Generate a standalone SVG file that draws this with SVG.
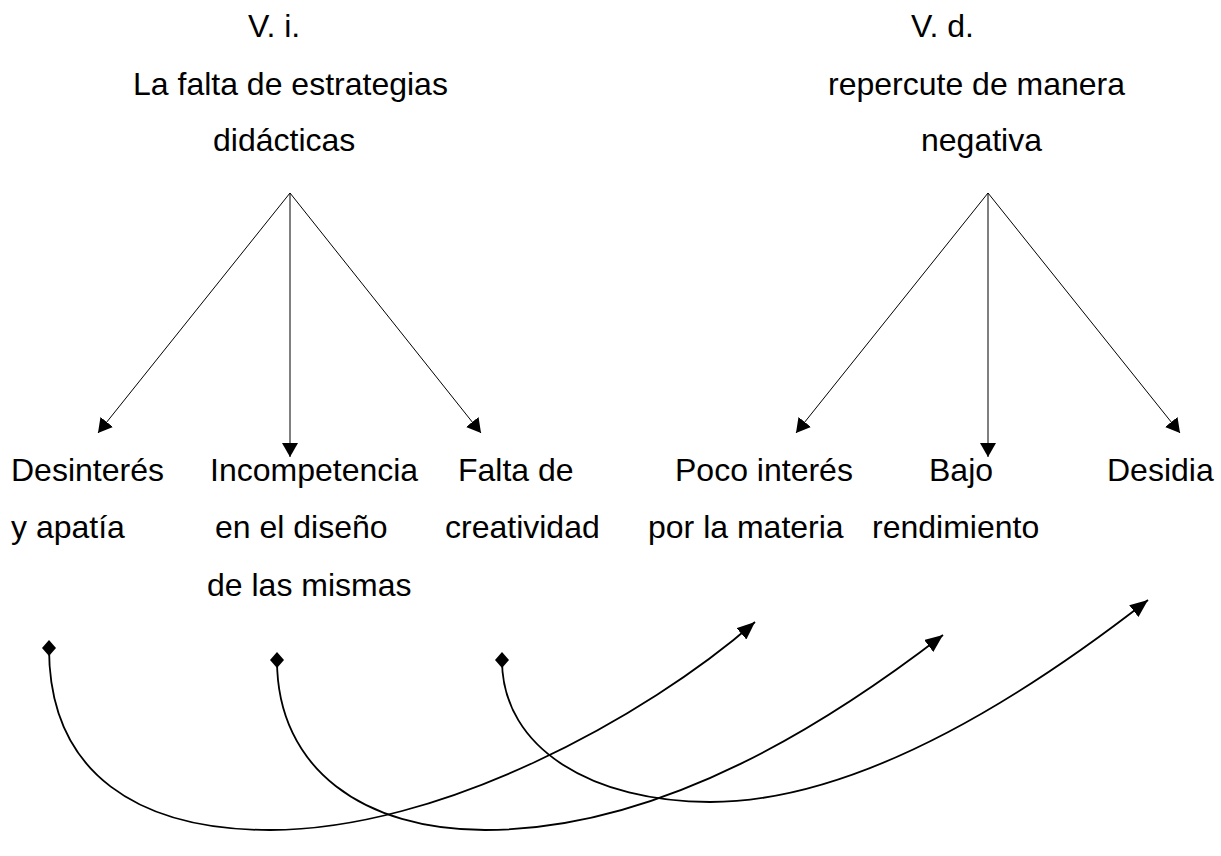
<svg xmlns="http://www.w3.org/2000/svg" width="1221" height="856" viewBox="0 0 1221 856">
<style>
text{font-family:"Liberation Sans",Arial,sans-serif;font-size:32px;fill:#000}
.ln{stroke:#000;stroke-width:1;fill:none}
.cv{stroke:#000;stroke-width:1.8;fill:none}
</style>
<defs>
<marker id="arr" viewBox="0 0 14 16" refX="14" refY="8" markerWidth="14" markerHeight="16" markerUnits="userSpaceOnUse" orient="auto"><path d="M0,0 L14,8 L0,16 z" fill="#000"/></marker>
<marker id="arr2" viewBox="0 0 18 15" refX="18" refY="7.5" markerWidth="18" markerHeight="15" markerUnits="userSpaceOnUse" orient="auto"><path d="M0,0 L18,7.5 L0,15 z" fill="#000"/></marker>
<marker id="dia" viewBox="-8 -8 16 16" refX="0" refY="0" markerWidth="16" markerHeight="16" markerUnits="userSpaceOnUse" orient="auto"><path d="M-8,0 L0,-7 L8,0 L0,7 z" fill="#000"/></marker>
</defs>
<rect width="1221" height="856" fill="#fff"/>
<g id="vi">
<text x="248" y="37">V. i.</text>
<text x="133" y="95">La falta de estrategias</text>
<text x="213" y="151">didácticas</text>
</g>
<g id="vd">
<text x="911" y="37">V. d.</text>
<text x="828" y="95">repercute de manera</text>
<text x="921" y="151">negativa</text>
</g>
<g id="n-desinteres"><text x="11" y="481">Desinterés</text><text x="11" y="538">y apatía</text></g>
<g id="n-incompetencia"><text x="210" y="481">Incompetencia</text><text x="215" y="538">en el diseño</text><text x="207" y="596">de las mismas</text></g>
<g id="n-falta"><text x="458" y="481">Falta de</text><text x="445" y="538">creatividad</text></g>
<g id="n-poco"><text x="675" y="481">Poco interés</text><text x="648" y="538">por la materia</text></g>
<g id="n-bajo"><text x="929" y="481">Bajo</text><text x="872" y="538">rendimiento</text></g>
<g id="n-desidia"><text x="1107" y="481">Desidia</text></g>
<g id="connectors">
<line class="ln" x1="290" y1="193" x2="98" y2="433" marker-end="url(#arr)"/>
<line class="ln" x1="290" y1="193" x2="290" y2="457" marker-end="url(#arr)"/>
<line class="ln" x1="290" y1="193" x2="481" y2="433" marker-end="url(#arr)"/>
<line class="ln" x1="988" y1="193" x2="796" y2="433" marker-end="url(#arr)"/>
<line class="ln" x1="988" y1="193" x2="988" y2="457" marker-end="url(#arr)"/>
<line class="ln" x1="988" y1="193" x2="1180" y2="433" marker-end="url(#arr)"/>
<path class="cv" d="M49,648 C49,775 140,830 270,830 C440,830 645,718 755,622" marker-start="url(#dia)" marker-end="url(#arr2)"/>
<path class="cv" d="M277,660 C277,770 365,830 485,830 C665,830 835,718 943,635" marker-start="url(#dia)" marker-end="url(#arr2)"/>
<path class="cv" d="M502,660 C502,750 595,802 710,802 C865,802 1035,688 1148,600" marker-start="url(#dia)" marker-end="url(#arr2)"/>
</g>
</svg>
